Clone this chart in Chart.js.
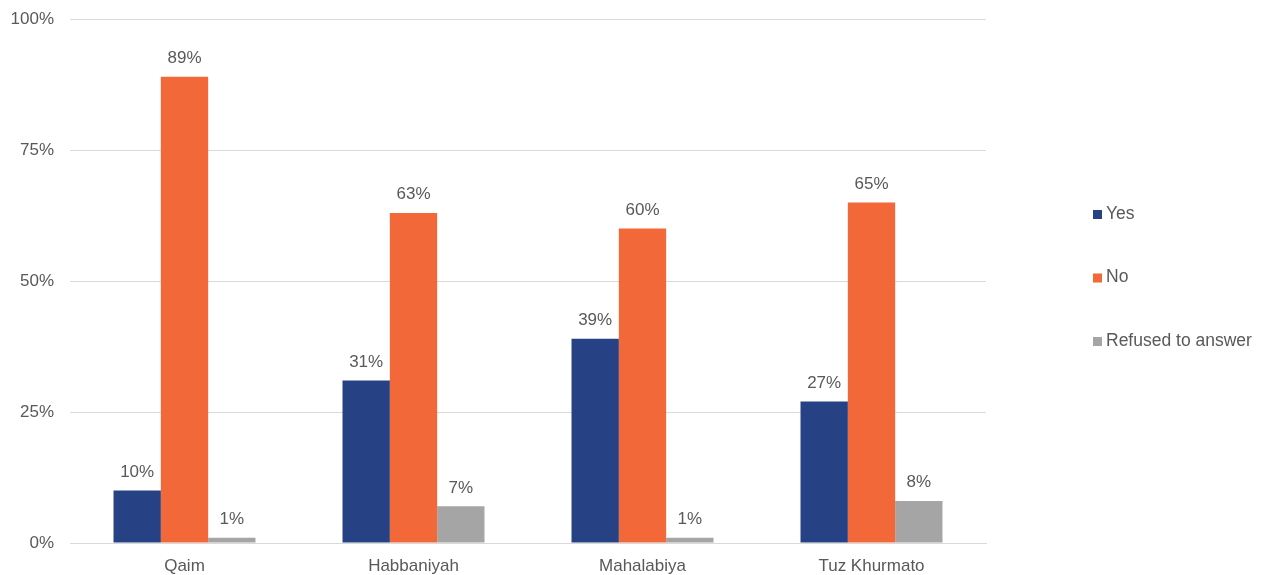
<!DOCTYPE html>
<html>
<head>
<meta charset="utf-8">
<script src="https://cdn.jsdelivr.net/npm/chart.js@4/dist/chart.umd.min.js"></script>
<style>
  html, body { margin: 0; padding: 0; background: #fff; }
  #wrap { width: 1269px; height: 575px; }
</style>
</head>
<body>
<div id="wrap"><canvas id="chart"></canvas></div>
<script>
let sites = ['Qaim', 'Habbaniyah', 'Mahalabiya', 'Tuz Khurmato'];
let yes = [10, 31, 39, 27];
let no = [89, 63, 60, 65];
let refused = [1, 7, 1, 8];
let yTicks = [0, 25, 50, 75, 100];

let font = '"Liberation Sans", Arial, Helvetica, sans-serif';
let textColor = '#595959';

// value labels above each bar
let barLabels = {
    id: 'barLabels',
    afterDatasetsDraw(chart) {
        let ctx = chart.ctx;
        ctx.save();
        ctx.font = '17px ' + font;
        ctx.fillStyle = textColor;
        ctx.textAlign = 'center';
        ctx.textBaseline = 'bottom';
        chart.data.datasets.forEach((ds, i) => {
            chart.getDatasetMeta(i).data.forEach((bar, j) => {
                ctx.fillText(ds.data[j] + '%', bar.x, bar.y - 10);
            });
        });
        ctx.restore();
    }
};

// legend on the right, stacked with wide gaps
let sideLegend = {
    id: 'sideLegend',
    afterDraw(chart) {
        let ctx = chart.ctx;
        ctx.save();
        ctx.font = '17.5px ' + font;
        ctx.textBaseline = 'middle';
        ctx.textAlign = 'left';
        chart.data.datasets.forEach((ds, i) => {
            let y = 214 + i * 63.5;
            ctx.fillStyle = ds.backgroundColor;
            ctx.fillRect(1093, y - 4, 9, 9);
            ctx.fillStyle = textColor;
            ctx.fillText(ds.label, 1106, y);
        });
        ctx.restore();
    }
};

new Chart(document.getElementById('chart').getContext('2d'), {
    type: 'bar',
    data: {
        labels: sites,
        datasets: [
            { label: 'Yes', data: yes, backgroundColor: '#264284' },
            { label: 'No', data: no, backgroundColor: '#F26838' },
            { label: 'Refused to answer', data: refused, backgroundColor: '#A5A5A5' }
        ]
    },
    options: {
        responsive: true,
        maintainAspectRatio: false,
        animation: false,
        layout: { padding: { top: 19, right: 283, left: 0, bottom: 0 } },
        datasets: { bar: { categoryPercentage: 0.62, barPercentage: 1.0 } },
        plugins: {
            legend: { display: false },
            tooltip: { enabled: false }
        },
        scales: {
            x: {
                grid: { display: false },
                border: { color: '#d9d9d9', width: 1 },
                ticks: { color: textColor, font: { family: font, size: 17 }, padding: 5 },
                afterFit: (s) => { s.height = 32; s.paddingLeft = 0; s.paddingRight = 0; }
            },
            y: {
                min: 0,
                max: 100,
                afterBuildTicks: (s) => { s.ticks = yTicks.map(v => ({ value: v })); },
                grid: { color: '#d9d9d9', lineWidth: 1, drawTicks: false },
                border: { display: false },
                ticks: {
                    color: textColor,
                    font: { family: font, size: 17 },
                    padding: 16,
                    callback: (v) => v + '%'
                },
                afterFit: (s) => { s.width = 70; s.paddingTop = 0; s.paddingBottom = 0; }
            }
        }
    },
    plugins: [barLabels, sideLegend]
});
</script>
</body>
</html>
